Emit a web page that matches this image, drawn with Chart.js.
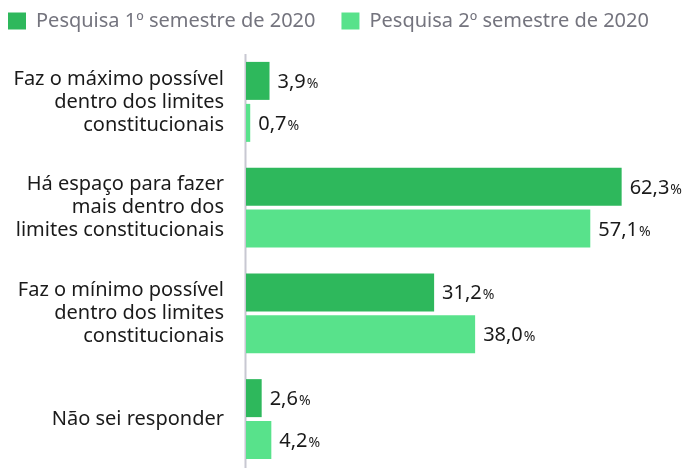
<!DOCTYPE html>
<html>
<head>
<meta charset="utf-8">
<script src="https://cdn.jsdelivr.net/npm/chart.js@4/dist/chart.umd.min.js"></script>
<style>
  html, body { margin: 0; padding: 0; background: #fff; overflow: hidden; }
  #wrap { width: 694px; height: 468px; overflow: hidden; }
  #opiniaoChart { display: block; width: 694px; height: 474px; }
</style>
</head>
<body>
<div id="wrap"><canvas id="opiniaoChart" width="694" height="474"></canvas></div>
<script>
const categorias = [
  ['Faz o máximo possível', 'dentro dos limites', 'constitucionais'],
  ['Há espaço para fazer', 'mais dentro dos', 'limites constitucionais'],
  ['Faz o mínimo possível', 'dentro dos limites', 'constitucionais'],
  ['Não sei responder']
];
const semestre1 = [3.9, 62.3, 31.2, 2.6];
const semestre2 = [0.7, 57.1, 38.0, 4.2];
const legendas = ['Pesquisa 1º semestre de 2020', 'Pesquisa 2º semestre de 2020'];

const FONT = '"Noto Sans"';

const ajustes = {
  id: 'ajustes',
  afterInit(chart) {
    // legenda: espaço maior entre itens sem empurrar a área do gráfico
    const legend = chart.legend;
    const fit = legend.fit;
    legend.fit = function () {
      fit.call(this);
      this.height = 64;
    };
  },
  afterLayout(chart) {
    // primeiro quadrado da legenda encostado à esquerda
    chart.legend.left = 8 - chart.legend.options.labels.padding;
  },
  beforeDatasetsDraw(chart) {
    // linha do eixo, começa um pouco abaixo do topo da área
    const { ctx, chartArea } = chart;
    ctx.save();
    ctx.strokeStyle = '#c8c8d2';
    ctx.lineWidth = 2;
    ctx.beginPath();
    ctx.moveTo(chartArea.left - 0.5, chartArea.top + 5);
    ctx.lineTo(chartArea.left - 0.5, chartArea.bottom);
    ctx.stroke();
    ctx.restore();
  },
  // rótulos de valor ao lado das barras, "%" menor
  afterDatasetsDraw(chart) {
    const ctx = chart.ctx;
    ctx.save();
    ctx.fillStyle = '#1a1a1a';
    ctx.textBaseline = 'alphabetic';
    ctx.textAlign = 'left';
    chart.data.datasets.forEach((ds, i) => {
      const meta = chart.getDatasetMeta(i);
      meta.data.forEach((bar, j) => {
        const txt = ds.data[j].toFixed(1).replace('.', ',');
        const x = bar.x + 8;
        const y = bar.y + 7;
        ctx.font = '20px ' + FONT;
        ctx.fillText(txt, x, y);
        const w = ctx.measureText(txt).width;
        ctx.font = '14px ' + FONT;
        ctx.fillText('%', x + w + 1, y);
      });
    });
    ctx.restore();
  }
};

const data = {
  labels: categorias,
  datasets: [
    {
      label: legendas[0],
      data: semestre1,
      backgroundColor: '#2eb85c',
      categoryPercentage: 0.794,
      barPercentage: 0.905
    },
    {
      label: legendas[1],
      data: semestre2,
      backgroundColor: '#58e28b',
      categoryPercentage: 0.794,
      barPercentage: 0.905
    }
  ]
};

const config = {
  type: 'bar',
  data: data,
  plugins: [ajustes],
  options: {
    indexAxis: 'y',
    responsive: false,
    maintainAspectRatio: false,
    animation: false,
    layout: { padding: { top: -15, bottom: 2, left: 0, right: 0 } },
    plugins: {
      tooltip: { enabled: false },
      legend: {
        position: 'top',
        align: 'start',
        labels: {
          boxWidth: 18,
          boxHeight: 17,
          padding: 26,
          color: '#74747e',
          font: { family: FONT, size: 20 }
        }
      }
    },
    scales: {
      x: {
        display: false,
        min: 0,
        max: 74.3
      },
      y: {
        grid: { display: false, drawTicks: false },
        border: { display: false },
        ticks: {
          color: '#1a1a1a',
          padding: 22,
          font: { family: FONT, size: 20, lineHeight: 1.15 }
        },
        afterFit: (scale) => {
          scale.width = 246;
          scale.paddingTop = 0;
          scale.paddingBottom = 0;
        }
      }
    }
  }
};

const chart = new Chart(document.getElementById('opiniaoChart'), config);
</script>
</body>
</html>
